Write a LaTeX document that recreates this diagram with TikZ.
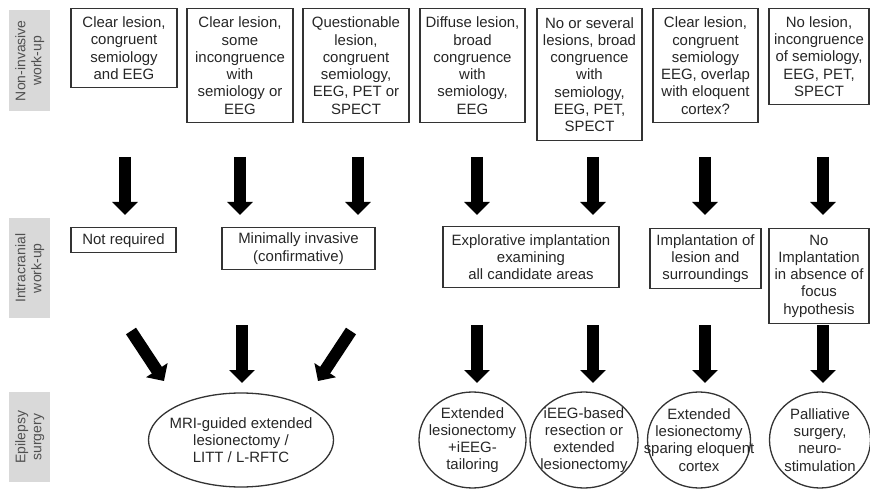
\documentclass[tikz,border=0pt]{standalone}
\usepackage{fontspec}
\setmainfont{Liberation Sans}
\usetikzlibrary{arrows.meta,shapes.geometric}
\definecolor{sidegray}{HTML}{D9D9D9}
\definecolor{sidetext}{HTML}{505050}
\definecolor{boxline}{HTML}{333333}
\definecolor{txt}{HTML}{262626}
\tikzset{
  box/.style={draw=boxline, line width=1.3bp, fill=white, align=center, anchor=north,
    inner sep=2bp, text=txt, font=\fontsize{15}{17.3}\selectfont},
  ovaltext/.style={align=center, inner sep=0pt, text=txt, font=\fontsize{15}{17.3}\selectfont},
  ovalline/.style={draw=boxline, line width=1.3bp},
  side/.style={fill=sidegray, anchor=north west, inner sep=0pt, minimum width=41bp},
  sidelabel/.style={rotate=90, align=center, text=sidetext, font=\fontsize{14}{16}\selectfont},
  bigarr/.style={line width=12bp, draw=black, -{Triangle[width=25bp,length=13bp]}},
}
\begin{document}
\begin{tikzpicture}[x=1bp,y=-1bp]
\useasboundingbox (0,0) rectangle (870,489);
% side labels
\node[side, minimum height=101bp] (s1) at (9,10) {};
\node[sidelabel] (s1t) at (s1.center) {Non-invasive\\work-up};
\node[side, minimum height=100bp] (s2) at (9,218) {};
\node[sidelabel] (s2t) at (s2.center) {Intracranial\\work-up};
\node[side, minimum height=90bp] (s3) at (9,392) {};
\node[sidelabel] (s3t) at (s3.center) {Epilepsy\\surgery};
% top row
\node[box, minimum width=106bp, minimum height=79bp] (b1) at (124,8) {Clear lesion,\\congruent\\semiology\\and EEG};
\node[box, minimum width=106bp, minimum height=114bp] (b2) at (240,8) {Clear lesion,\\some\\incongruence\\with\\semiology or\\EEG};
\node[box, minimum width=106bp, minimum height=114bp] (b3) at (356,8) {Questionable\\lesion,\\congruent\\semiology,\\EEG, PET or\\SPECT};
\node[box, minimum width=105bp, minimum height=114bp] (b4) at (472.5,8) {Diffuse lesion,\\broad\\congruence\\with\\semiology,\\EEG};
\node[box, minimum width=105bp, minimum height=132bp] (b5) at (589.5,8) {No or several\\lesions, broad\\congruence\\with\\semiology,\\EEG, PET,\\SPECT};
\node[box, minimum width=105bp, minimum height=114bp] (b6) at (705.5,8) {Clear lesion,\\congruent\\semiology\\EEG, overlap\\with eloquent\\cortex?};
\node[box, minimum width=100bp, minimum height=96bp] (b7) at (819,8) {No lesion,\\incongruence\\of semiology,\\EEG, PET,\\SPECT};
% intracranial row
\node[box, minimum width=105bp, minimum height=25bp] (i1) at (123.5,227) {Not required};
\node[box, minimum width=153bp, minimum height=42bp] (i2) at (298.5,227) {Minimally invasive\\(confirmative)};
\node[box, minimum width=176bp, minimum height=61bp] (i3) at (531,226) {Explorative implantation\\examining\\all candidate areas};
\node[box, minimum width=111bp, minimum height=60bp] (i4) at (705.5,228) {Implantation of\\lesion and\\surroundings};
\node[box, minimum width=100bp, minimum height=95bp] (i5) at (819,228) {No\\Implantation\\in absence of\\focus\\hypothesis};
% surgery row
\draw[ovalline] (241,440) ellipse [x radius=92.5, y radius=47];
\node[ovaltext] (e0) at (241,440) {MRI-guided extended\\lesionectomy /\\LITT / L-RFTC};
\draw[ovalline] (472.5,440) ellipse [x radius=53.5, y radius=48];
\node[ovaltext] (e1) at (472.5,440) {Extended\\lesionectomy\\+iEEG-\\tailoring};
\draw[ovalline] (584,440) ellipse [x radius=54, y radius=48];
\node[ovaltext] (e2) at (584,440) {iEEG-based\\resection or\\extended\\lesionectomy};
\draw[ovalline] (699,440) ellipse [x radius=51.5, y radius=48];
\node[ovaltext] (e3) at (699,440) {Extended\\lesionectomy\\sparing eloquent\\cortex};
\draw[ovalline] (820,440) ellipse [x radius=50.5, y radius=48];
\node[ovaltext] (e4) at (820,440) {Palliative\\surgery,\\neuro-\\stimulation};
% arrow end points, row 1
\foreach \n/\x in {1/125,2/240,3/358,4/477,5/593,6/705,7/823}{
  \coordinate (p\n) at (\x,157);
  \coordinate (q\n) at (\x,215);
}
% arrow end points, row 2
\coordinate (uL) at (131,331); \coordinate (vL) at (164,381);
\coordinate (uM) at (242,325); \coordinate (vM) at (242,383);
\coordinate (uR) at (351,331); \coordinate (vR) at (318,381);
\foreach \n/\x in {4/477,5/593,6/705,7/823}{
  \coordinate (u\n) at (\x,325);
  \coordinate (v\n) at (\x,383);
}
\foreach \n in {1,...,7}{ \draw[bigarr] (p\n) -- (q\n); }
\draw[bigarr] (uL) -- (vL);
\draw[bigarr] (uM) -- (vM);
\draw[bigarr] (uR) -- (vR);
\foreach \n in {4,...,7}{ \draw[bigarr] (u\n) -- (v\n); }
\end{tikzpicture}
\end{document}
